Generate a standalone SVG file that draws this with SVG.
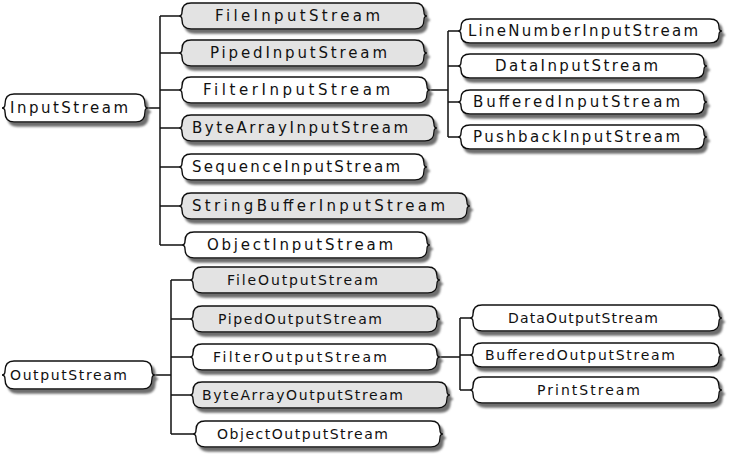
<svg xmlns="http://www.w3.org/2000/svg" width="729" height="456" viewBox="0 0 729 456">
<defs>
<filter id="sh" x="-5%" y="-30%" width="115%" height="180%">
<feGaussianBlur in="SourceAlpha" stdDeviation="1.2"/>
<feOffset dx="3" dy="4" result="b"/>
<feFlood flood-color="#6e6e6e"/>
<feComposite in2="b" operator="in"/>
<feMerge><feMergeNode/><feMergeNode in="SourceGraphic"/></feMerge>
</filter>
</defs>
<style>
.n path{stroke:#111;stroke-width:1.4;filter:url(#sh)}
.g path{fill:#e3e3e3}
.w path{fill:#ffffff}
.n text{font-family:"DejaVu Sans",Verdana,sans-serif;font-size:15px;fill:#111}
.o text{font-size:14px}
.c{fill:none;stroke:#111;stroke-width:1.5}
</style>
<rect width="729" height="456" fill="#ffffff"/>
<g id="connectors" class="c">
<path d="M148,108H160M160,16V245M160,16H179M160,53H179M160,90H179M160,128H179M160,167H179M160,206H179M160,245H182"/>
<path d="M430,90H448M448,31V137M448,31H458M448,66H458M448,102H458M448,137H458"/>
<path d="M155,375H171M171,280V434M171,280H190M171,319H190M171,357H190M171,395H190M171,434H193"/>
<path d="M440,357H460M460,318V390M460,318H470M460,355H470M460,390H470"/>
</g>
<g id="InputStream" class="n w"><path d="M14,94H136Q145,94 145,104Q145,108 148,108Q145,108 145,112Q145,122 136,122H14Q5,122 5,112Q5,108 2,108Q5,108 5,104Q5,94 14,94Z"/><text x="10" y="113" textLength="118" lengthAdjust="spacing">InputStream</text></g>
<g id="FileInputStream" class="n g"><path d="M191,3H415Q424,3 424,12Q424,16 427,16Q424,16 424,20Q424,29 415,29H191Q182,29 182,20Q182,16 179,16Q182,16 182,12Q182,3 191,3Z"/><text x="215" y="21" textLength="165" lengthAdjust="spacing">FileInputStream</text></g>
<g id="PipedInputStream" class="n g"><path d="M191,40H415Q424,40 424,49Q424,53 427,53Q424,53 424,57Q424,66 415,66H191Q182,66 182,57Q182,53 179,53Q182,53 182,49Q182,40 191,40Z"/><text x="210" y="58" textLength="177" lengthAdjust="spacing">PipedInputStream</text></g>
<g id="FilterInputStream" class="n w"><path d="M191,77H418Q427,77 427,86Q427,90 430,90Q427,90 427,94Q427,103 418,103H191Q182,103 182,94Q182,90 179,90Q182,90 182,86Q182,77 191,77Z"/><text x="203" y="95" textLength="187" lengthAdjust="spacing">FilterInputStream</text></g>
<g id="ByteArrayInputStream" class="n g"><path d="M191,115H425Q434,115 434,124Q434,128 437,128Q434,128 434,132Q434,141 425,141H191Q182,141 182,132Q182,128 179,128Q182,128 182,124Q182,115 191,115Z"/><text x="192" y="133" textLength="216" lengthAdjust="spacing">ByteArrayInputStream</text></g>
<g id="SequenceInputStream" class="n w"><path d="M191,154H415Q424,154 424,163Q424,167 427,167Q424,167 424,171Q424,180 415,180H191Q182,180 182,171Q182,167 179,167Q182,167 182,163Q182,154 191,154Z"/><text x="192" y="172" textLength="208" lengthAdjust="spacing">SequenceInputStream</text></g>
<g id="StringBufferInputStream" class="n g"><path d="M191,193H458Q467,193 467,202Q467,206 470,206Q467,206 467,210Q467,219 458,219H191Q182,219 182,210Q182,206 179,206Q182,206 182,202Q182,193 191,193Z"/><text x="192" y="211" textLength="253" lengthAdjust="spacing">StringBufferInputStream</text></g>
<g id="ObjectInputStream" class="n w"><path d="M194,232H418Q427,232 427,241Q427,245 430,245Q427,245 427,249Q427,258 418,258H194Q185,258 185,249Q185,245 182,245Q185,245 185,241Q185,232 194,232Z"/><text x="207" y="250" textLength="186" lengthAdjust="spacing">ObjectInputStream</text></g>
<g id="LineNumberInputStream" class="n w"><path d="M470,19H710Q719,19 719,27Q719,31 722,31Q719,31 719,35Q719,43 710,43H470Q461,43 461,35Q461,31 458,31Q461,31 461,27Q461,19 470,19Z"/><text x="468" y="36" textLength="230" lengthAdjust="spacing">LineNumberInputStream</text></g>
<g id="DataInputStream" class="n w"><path d="M470,54H695Q704,54 704,62Q704,66 707,66Q704,66 704,70Q704,78 695,78H470Q461,78 461,70Q461,66 458,66Q461,66 461,62Q461,54 470,54Z"/><text x="495" y="71" textLength="163" lengthAdjust="spacing">DataInputStream</text></g>
<g id="BufferedInputStream" class="n w"><path d="M470,90H695Q704,90 704,98Q704,102 707,102Q704,102 704,106Q704,114 695,114H470Q461,114 461,106Q461,102 458,102Q461,102 461,98Q461,90 470,90Z"/><text x="473" y="107" textLength="207" lengthAdjust="spacing">BufferedInputStream</text></g>
<g id="PushbackInputStream" class="n w"><path d="M470,125H695Q704,125 704,133Q704,137 707,137Q704,137 704,141Q704,149 695,149H470Q461,149 461,141Q461,137 458,137Q461,137 461,133Q461,125 470,125Z"/><text x="473" y="142" textLength="207" lengthAdjust="spacing">PushbackInputStream</text></g>
<g id="OutputStream" class="n w o"><path d="M14,361H143Q152,361 152,371Q152,375 155,375Q152,375 152,379Q152,389 143,389H14Q5,389 5,379Q5,375 2,375Q5,375 5,371Q5,361 14,361Z"/><text x="10" y="380" textLength="117" lengthAdjust="spacing">OutputStream</text></g>
<g id="FileOutputStream" class="n g o"><path d="M202,267H428Q437,267 437,276Q437,280 440,280Q437,280 437,284Q437,293 428,293H202Q193,293 193,284Q193,280 190,280Q193,280 193,276Q193,267 202,267Z"/><text x="227" y="285" textLength="151" lengthAdjust="spacing">FileOutputStream</text></g>
<g id="PipedOutputStream" class="n g o"><path d="M202,306H428Q437,306 437,315Q437,319 440,319Q437,319 437,323Q437,332 428,332H202Q193,332 193,323Q193,319 190,319Q193,319 193,315Q193,306 202,306Z"/><text x="218" y="324" textLength="164" lengthAdjust="spacing">PipedOutputStream</text></g>
<g id="FilterOutputStream" class="n w o"><path d="M202,344H428Q437,344 437,353Q437,357 440,357Q437,357 437,361Q437,370 428,370H202Q193,370 193,361Q193,357 190,357Q193,357 193,353Q193,344 202,344Z"/><text x="213" y="362" textLength="174" lengthAdjust="spacing">FilterOutputStream</text></g>
<g id="ByteArrayOutputStream" class="n g o"><path d="M202,382H438Q447,382 447,391Q447,395 450,395Q447,395 447,399Q447,408 438,408H202Q193,408 193,399Q193,395 190,395Q193,395 193,391Q193,382 202,382Z"/><text x="202" y="400" textLength="201" lengthAdjust="spacing">ByteArrayOutputStream</text></g>
<g id="ObjectOutputStream" class="n w o"><path d="M205,421H431Q440,421 440,430Q440,434 443,434Q440,434 440,438Q440,447 431,447H205Q196,447 196,438Q196,434 193,434Q196,434 196,430Q196,421 205,421Z"/><text x="217" y="439" textLength="171" lengthAdjust="spacing">ObjectOutputStream</text></g>
<g id="DataOutputStream" class="n w o"><path d="M482,305H710Q719,305 719,314Q719,318 722,318Q719,318 719,322Q719,331 710,331H482Q473,331 473,322Q473,318 470,318Q473,318 473,314Q473,305 482,305Z"/><text x="508" y="323" textLength="150" lengthAdjust="spacing">DataOutputStream</text></g>
<g id="BufferedOutputStream" class="n w o"><path d="M482,343H710Q719,343 719,351Q719,355 722,355Q719,355 719,359Q719,367 710,367H482Q473,367 473,359Q473,355 470,355Q473,355 473,351Q473,343 482,343Z"/><text x="485" y="360" textLength="190" lengthAdjust="spacing">BufferedOutputStream</text></g>
<g id="PrintStream" class="n w o"><path d="M482,377H710Q719,377 719,386Q719,390 722,390Q719,390 719,394Q719,403 710,403H482Q473,403 473,394Q473,390 470,390Q473,390 473,386Q473,377 482,377Z"/><text x="537" y="395" textLength="103" lengthAdjust="spacing">PrintStream</text></g>
</svg>
